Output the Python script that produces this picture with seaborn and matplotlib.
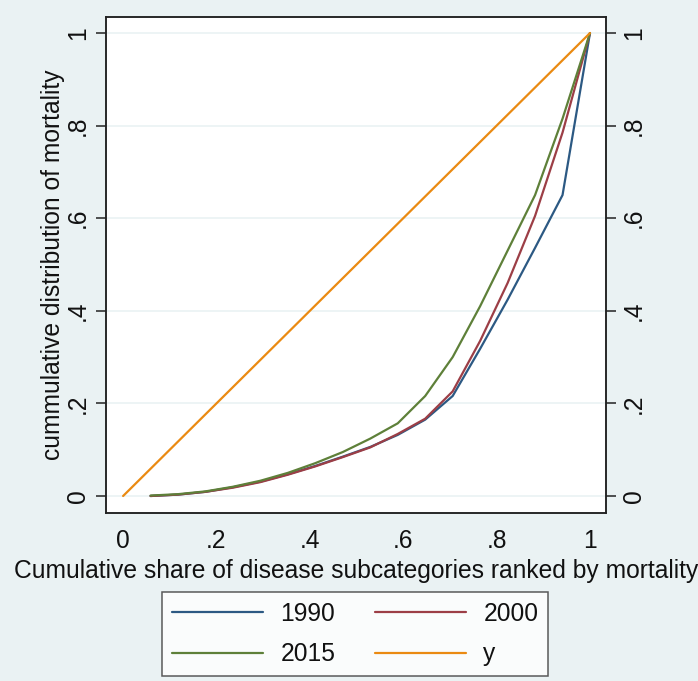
import numpy as np
import pandas as pd
import matplotlib
matplotlib.use("Agg")
import matplotlib.pyplot as plt
import seaborn as sns

# Cumulative share of subcategories (17 ranked disease subcategories)
share = [1/17, 2/17, 3/17, 4/17, 5/17, 6/17, 7/17, 8/17, 9/17, 10/17,
         11/17, 12/17, 13/17, 14/17, 15/17, 16/17, 1.0]

# Cumulative distribution of mortality per year
cum_1990 = [0.000, 0.003, 0.009, 0.019, 0.031, 0.047, 0.065, 0.085, 0.106,
            0.132, 0.165, 0.216, 0.318, 0.424, 0.536, 0.650, 1.000]
cum_2000 = [0.000, 0.003, 0.009, 0.018, 0.030, 0.046, 0.064, 0.084, 0.105,
            0.134, 0.167, 0.226, 0.335, 0.460, 0.605, 0.785, 1.000]
cum_2015 = [0.001, 0.004, 0.010, 0.020, 0.033, 0.050, 0.071, 0.095, 0.124,
            0.157, 0.216, 0.300, 0.410, 0.530, 0.650, 0.815, 1.000]

# Line of equality
eq_x = [0.0, 1.0]
eq_y = [0.0, 1.0]

series_names = ["1990", "2000", "2015", "y"]
tick_vals = [0, 0.2, 0.4, 0.6, 0.8, 1.0]
tick_labels = ["0", ".2", ".4", ".6", ".8", "1"]

frames = []
for name, vals in zip(series_names[:3], [cum_1990, cum_2000, cum_2015]):
    frames.append(pd.DataFrame({"share": share, "cum": vals, "series": name}))
frames.append(pd.DataFrame({"share": eq_x, "cum": eq_y, "series": "y"}))
df = pd.concat(frames, ignore_index=True)

palette = {"1990": "#2C5983", "2000": "#9C3E46", "2015": "#5E8039", "y": "#EA8A12"}

sns.set_style("white")
plt.rcParams["font.family"] = ["Liberation Sans", "DejaVu Sans"]

bg = "#EAF2F3"
fig = plt.figure(figsize=(6.98, 6.81), dpi=100, facecolor=bg)
ax = fig.add_axes([0.152, 0.2467, 0.716, 0.7283])
ax.set_facecolor("white")

sns.lineplot(data=df, x="share", y="cum", hue="series", hue_order=series_names,
             palette=palette, estimator=None, sort=False, linewidth=1.6, ax=ax)

handles, labels = ax.get_legend_handles_labels()
ax.get_legend().remove()
lookup = dict(zip(labels, handles))

ax.set_xlim(-0.0364, 1.034)
ax.set_ylim(-0.0367, 1.0346)
ax.set_xticks(tick_vals)
ax.set_xticklabels(tick_labels)
ax.set_yticks(tick_vals)
ax.set_yticklabels(tick_labels, rotation=90, va="center")

for y in tick_vals:
    ax.axhline(y, color=bg, linewidth=1.2, zorder=0)

fs = 17.7
tick_len = 7.5
ax.tick_params(axis="both", direction="out", length=tick_len, width=1.1,
               color="#222222", labelsize=fs, labelcolor="#111111", pad=4)
ax.tick_params(axis="x", pad=4)
for sp in ax.spines.values():
    sp.set_color("#222222")
    sp.set_linewidth(1.1)

ax.set_xlabel("Cumulative share of disease subcategories ranked by mortality",
              fontsize=fs, color="#111111", labelpad=4)
ax.set_ylabel("cummulative distribution of mortality", fontsize=fs,
              color="#111111", labelpad=1)

# Mirror axis on the right side
ax2 = ax.twinx()
ax2.set_ylim(ax.get_ylim())
ax2.set_yticks(tick_vals)
ax2.set_yticklabels(tick_labels, rotation=90, va="center")
ax2.tick_params(axis="y", direction="out", length=tick_len, width=1.1,
                color="#222222", labelsize=fs, labelcolor="#111111", pad=4,
                right=True)
for sp in ax2.spines.values():
    sp.set_color("#222222")
    sp.set_linewidth(1.1)

# Row-wise legend order: 1990, 2000 / 2015, y
order = ["1990", "2015", "2000", "y"]
leg = fig.legend([lookup[k] for k in order], order, ncol=2, loc="center",
                 bbox_to_anchor=(0.5086, 0.069), frameon=True, fancybox=False,
                 fontsize=fs, handlelength=3.72, columnspacing=1.6,
                 handletextpad=0.7, borderpad=0.4, labelspacing=0.66)
leg.get_frame().set_edgecolor("#333333")
leg.get_frame().set_linewidth(1.1)
leg.get_frame().set_facecolor("white")
for t in leg.get_texts():
    t.set_color("#111111")

fig.savefig("out.png", dpi=100, facecolor=bg)
